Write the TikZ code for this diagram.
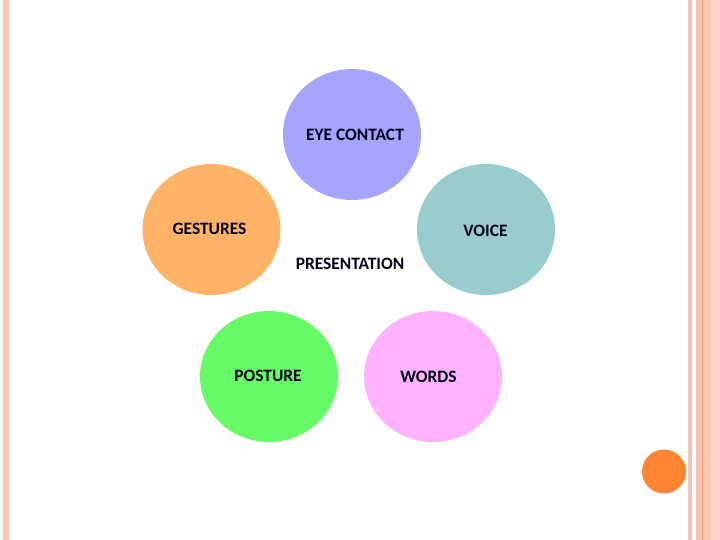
\documentclass[tikz,border=0pt]{standalone}
\usepackage{fontspec}
\setmainfont{Carlito}
\usetikzlibrary{shapes.geometric}
\definecolor{barpink}{HTML}{F9C6B4}
\definecolor{barlight}{HTML}{FBD3C4}
\definecolor{barline}{HTML}{F0A070}
\definecolor{dotorange}{HTML}{FF8533}
\definecolor{ceye}{HTML}{A5A5FF}
\definecolor{cgest}{HTML}{FFB367}
\definecolor{cvoice}{HTML}{99CCCC}
\definecolor{cpost}{HTML}{66FA66}
\definecolor{cwords}{HTML}{FFB3FF}
\tikzset{
  bubble/.style={ellipse, minimum width=138pt, minimum height=131pt, inner sep=0pt, draw=none},
  lbl/.style={font=\bfseries\fontsize{17.4}{20}\selectfont, text=black!90!blue, inner sep=0pt}
}
\begin{document}
\begin{tikzpicture}[x=1pt,y=-1pt]
\useasboundingbox (0,0) rectangle (720,540);
\fill[white] (0,0) rectangle (720,540);
% borders
\fill[barpink] (3,0) rectangle (9,540);
\fill[barpink] (688,0) rectangle (692,540);
\fill[barpink] (696,0) rectangle (710,540);
\fill[barlight] (710,0) rectangle (720,540);
\fill[barline] (702,0) rectangle (703.2,540);
% dot
\node[circle, fill=dotorange, minimum size=44pt, inner sep=0pt] (dot) at (664,471.5) {};
% bubbles
\node[bubble, fill=ceye] (eye) at (352,134.5) {};
\node[bubble, fill=cgest] (gest) at (211.5,229.5) {};
\node[bubble, fill=cvoice] (voice) at (486,229.5) {};
\node[bubble, fill=cpost] (post) at (269,376.5) {};
\node[bubble, fill=cwords] (words) at (433,376.5) {};
% labels
\node[lbl] (teye) at (355,134.5) {EYE CONTACT};
\node[lbl] (tgest) at (209.5,229) {GESTURES};
\node[lbl] (tvoice) at (485.5,231) {VOICE};
\node[lbl] (tpres) at (350,263.5) {PRESENTATION};
\node[lbl] (tpost) at (268,375.5) {POSTURE};
\node[lbl] (twords) at (428.5,376.5) {WORDS};
\end{tikzpicture}
\end{document}
